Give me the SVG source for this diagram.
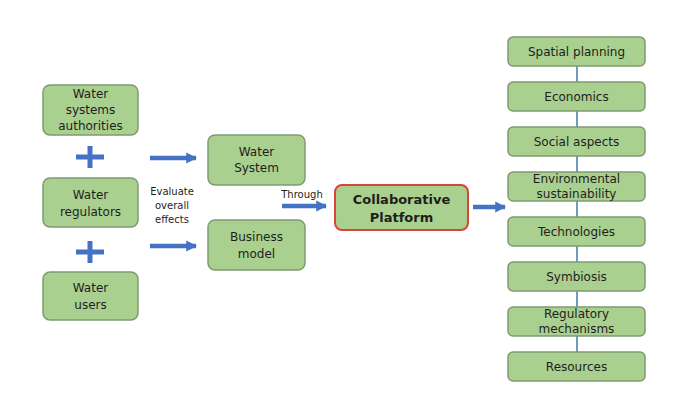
<svg xmlns="http://www.w3.org/2000/svg" width="700" height="418" viewBox="0 0 700 418">
<defs>
<marker id="ah" viewBox="0 0 10 10" refX="9" refY="5" markerWidth="2.4" markerHeight="2.6" orient="auto" markerUnits="strokeWidth">
<path d="M0,0 L10,5 L0,10 z" fill="#4472c4"/>
</marker>
</defs>
<style>
.box{fill:#a9d08e;stroke:#7f9a72;stroke-width:1.5}
.plat{fill:#a9d08e;stroke:#d9453a;stroke-width:2}
.t{font-family:"DejaVu Sans",Verdana,sans-serif;font-size:12px;fill:#1e1e1e;text-anchor:middle;dominant-baseline:central}
.s{font-family:"DejaVu Sans",Verdana,sans-serif;font-size:10px;fill:#1e1e1e;text-anchor:middle;dominant-baseline:central}
.b{font-family:"DejaVu Sans",Verdana,sans-serif;font-size:13px;font-weight:bold;fill:#1e1e1e;text-anchor:middle;dominant-baseline:central}
.arr{stroke:#4472c4;stroke-width:4.5;fill:none;marker-end:url(#ah)}
.plus{stroke:#4472c4;stroke-width:5;fill:none}
.vl{stroke:#3f7ea6;stroke-width:1.5;fill:none}
</style>
<rect width="700" height="418" fill="#ffffff"/>
<g id="connectors">
<path class="arr" d="M150,158 H196"/>
<path class="arr" d="M150,246 H196"/>
<path class="arr" d="M282,206 H326"/>
<path class="arr" d="M473,207 H505"/>
<path class="vl" d="M577,66 V82 M577,111 V127 M577,156 V172 M577,201 V217 M577,246 V262 M577,291 V307 M577,336 V352"/>
<path class="plus" d="M76,157 H104 M90,146 V168"/>
<path class="plus" d="M76,252 H104 M90,241 V263"/>
<text class="s" x="172" y="191">Evaluate</text>
<text class="s" x="172" y="205">overall</text>
<text class="s" x="172" y="219">effects</text>
<text class="s" x="302" y="194">Through</text>
</g>
<g id="water-systems-authorities">
<rect class="box" x="43" y="85" width="95" height="50" rx="7"/>
<text class="t" x="90.5" y="94">Water</text>
<text class="t" x="90.5" y="110">systems</text>
<text class="t" x="90.5" y="126">authorities</text>
</g>
<g id="water-regulators">
<rect class="box" x="43" y="178" width="95" height="49" rx="7"/>
<text class="t" x="90.5" y="195">Water</text>
<text class="t" x="90.5" y="212">regulators</text>
</g>
<g id="water-users">
<rect class="box" x="43" y="272" width="95" height="48" rx="7"/>
<text class="t" x="90.5" y="288">Water</text>
<text class="t" x="90.5" y="305">users</text>
</g>
<g id="water-system">
<rect class="box" x="208" y="135" width="97" height="50" rx="7"/>
<text class="t" x="256.5" y="152">Water</text>
<text class="t" x="256.5" y="168">System</text>
</g>
<g id="business-model">
<rect class="box" x="208" y="220" width="97" height="50" rx="7"/>
<text class="t" x="256.5" y="237">Business</text>
<text class="t" x="256.5" y="254">model</text>
</g>
<g id="collaborative-platform">
<rect class="plat" x="335" y="185" width="133" height="45" rx="7"/>
<text class="b" x="401.5" y="199">Collaborative</text>
<text class="b" x="401.5" y="217">Platform</text>
</g>
<g id="spatial-planning">
<rect class="box" x="508" y="37" width="137" height="29" rx="5"/>
<text class="t" x="576.5" y="51.5">Spatial planning</text>
</g>
<g id="economics">
<rect class="box" x="508" y="82" width="137" height="29" rx="5"/>
<text class="t" x="576.5" y="96.5">Economics</text>
</g>
<g id="social-aspects">
<rect class="box" x="508" y="127" width="137" height="29" rx="5"/>
<text class="t" x="576.5" y="141.5">Social aspects</text>
</g>
<g id="environmental-sustainability">
<rect class="box" x="508" y="172" width="137" height="29" rx="5"/>
<text class="t" x="576.5" y="179">Environmental</text>
<text class="t" x="576.5" y="194">sustainability</text>
</g>
<g id="technologies">
<rect class="box" x="508" y="217" width="137" height="29" rx="5"/>
<text class="t" x="576.5" y="231.5">Technologies</text>
</g>
<g id="symbiosis">
<rect class="box" x="508" y="262" width="137" height="29" rx="5"/>
<text class="t" x="576.5" y="276.5">Symbiosis</text>
</g>
<g id="regulatory-mechanisms">
<rect class="box" x="508" y="307" width="137" height="29" rx="5"/>
<text class="t" x="576.5" y="314">Regulatory</text>
<text class="t" x="576.5" y="329">mechanisms</text>
</g>
<g id="resources">
<rect class="box" x="508" y="352" width="137" height="29" rx="5"/>
<text class="t" x="576.5" y="366.5">Resources</text>
</g>
</svg>
